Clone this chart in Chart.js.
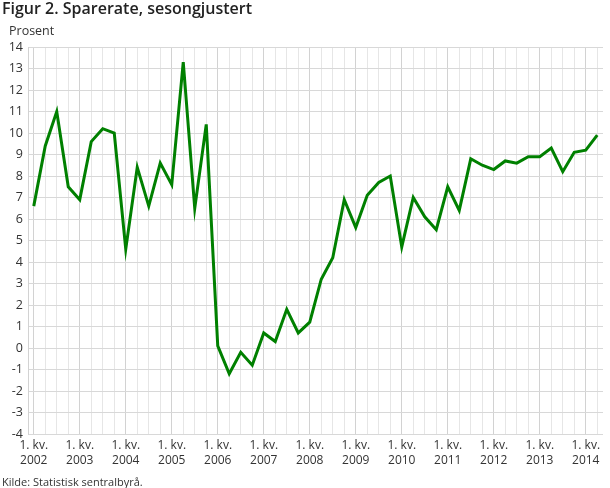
<!DOCTYPE html>
<html>
<head>
<meta charset="utf-8">
<script src="https://cdn.jsdelivr.net/npm/chart.js@4/dist/chart.umd.min.js"></script>
<style>
    body { margin: 0; background: #fff; font-family: 'Open Sans', sans-serif; }
    #wrap { position: relative; width: 610px; height: 488px; }
    #title { position: absolute; left: 2px; top: -3px; font-size: 16px; font-weight: 600; color: #222; }
    #unit { position: absolute; left: 9px; top: 22px; font-size: 12.5px; color: #333; }
    #source { position: absolute; left: 2px; top: 474px; font-size: 11px; color: #333; }
    canvas { position: absolute; left: 0; top: 0; }
</style>
</head>
<body>
<div id="wrap">
    <canvas id="chart" width="610" height="488"></canvas>
    <div id="title">Figur 2. Sparerate, sesongjustert</div>
    <div id="unit">Prosent</div>
    <div id="source">Kilde: Statistisk sentralbyrå.</div>
</div>
<script>
// Årstall og kvartal
const years = ['2002', '2003', '2004', '2005', '2006', '2007', '2008', '2009', '2010', '2011', '2012', '2013', '2014'];
const quarters = ['1. kv.', '2. kv.', '3. kv.', '4. kv.'];

// Sparerate, prosent (2002K1 - 2014K2)
const sparerate = [
    6.6, 9.4, 11.0, 7.5,
    6.9, 9.6, 10.2, 10.0,
    4.6, 8.4, 6.6, 8.6,
    7.6, 13.3, 6.5, 10.4,
    0.1, -1.2, -0.2, -0.8,
    0.7, 0.3, 1.8, 0.7,
    1.2, 3.2, 4.2, 6.9,
    5.6, 7.1, 7.7, 8.0,
    4.7, 7.0, 6.1, 5.5,
    7.5, 6.4, 8.8, 8.5,
    8.3, 8.7, 8.6, 8.9,
    8.9, 9.3, 8.2, 9.1,
    9.2, 9.9
];

const yMin = -4;
const yMax = 14;

// Kategorier: en per kvartal
const labels = [];
years.forEach(y => quarters.forEach(q => labels.push([q, y])));
labels.length = sparerate.length;

new Chart(document.getElementById('chart'), {
    type: 'line',
    data: {
        labels: labels,
        datasets: [{
            label: 'Sparerate',
            data: sparerate,
            borderColor: '#008000',
            borderWidth: 3,
            pointRadius: 0,
            tension: 0,
            fill: false
        }]
    },
    options: {
        responsive: false,
        animation: false,
        layout: {
            padding: { top: 47, right: 7, left: 0, bottom: 0 }
        },
        plugins: {
            legend: { display: false },
            tooltip: { enabled: false }
        },
        scales: {
            x: {
                offset: true,
                grid: {
                    offset: false,
                    drawTicks: false,
                    color: function(ctx) {
                        return ctx.index % 4 === 0 ? '#d2d2d2' : '#e6e6e6';
                    }
                },
                border: { display: false },
                ticks: {
                    autoSkip: false,
                    maxRotation: 0,
                    minRotation: 0,
                    padding: 4,
                    color: '#333',
                    font: { family: "'Open Sans'", size: 12, lineHeight: 1.25 },
                    callback: function(value, index) {
                        return index % 4 === 0 ? this.getLabelForValue(value) : '';
                    }
                },
                afterFit: function(scale) { scale.height = 54; }
            },
            y: {
                min: yMin,
                max: yMax,
                grid: {
                    drawTicks: false,
                    color: '#d8d8d8'
                },
                border: { display: true, color: '#d2d2d2' },
                ticks: {
                    stepSize: 1,
                    padding: 5,
                    color: '#333',
                    font: { family: "'Open Sans'", size: 12.5 }
                },
                afterFit: function(scale) { scale.width = 28; }
            }
        }
    }
});
</script>
</body>
</html>
